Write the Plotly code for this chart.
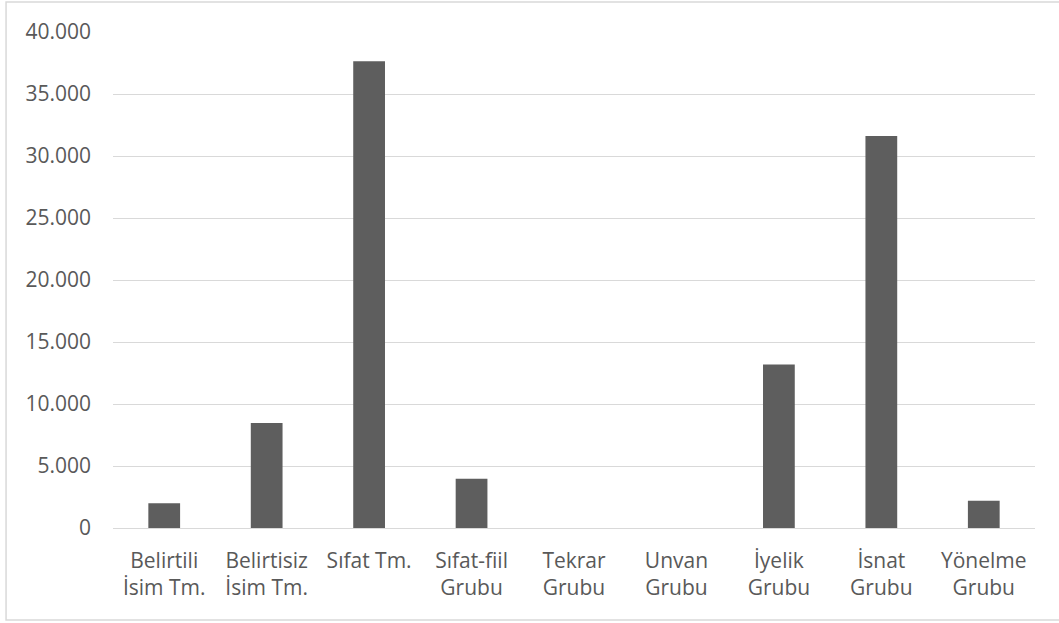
import plotly.graph_objects as go

categories = ["Belirtili<br>İsim Tm.", "Belirtisiz<br>İsim Tm.", "Sıfat Tm.", "Sıfat-fiil<br>Grubu",
              "Tekrar<br>Grubu", "Unvan<br>Grubu", "İyelik<br>Grubu", "İsnat<br>Grubu", "Yönelme<br>Grubu"]
values = [2000, 8470, 37650, 3980, 0, 0, 13190, 31610, 2200]
y_ticks = [0, 5000, 10000, 15000, 20000, 25000, 30000, 35000, 40000]

text_color = "#595959"
grid_color = "#d9d9d9"
bar_color = "#5e5e5e"

fig = go.Figure(go.Bar(x=categories, y=values, marker=dict(color=bar_color, line=dict(width=0)),
                       width=0.31))

fig.update_layout(
    width=1059, height=623,
    margin=dict(l=113, r=24, t=32, b=95),
    paper_bgcolor="white", plot_bgcolor="white",
    separators=",.",
    font=dict(family="Open Sans", size=21, color=text_color),
    showlegend=False,
    xaxis=dict(showgrid=False, showline=False, ticks="", tickfont=dict(size=21, color=text_color),
               ticklabelstandoff=18, tickangle=0),
    yaxis=dict(range=[0, 40000], tickvals=y_ticks, tickformat=",d", showgrid=True,
               gridcolor=grid_color, gridwidth=1.3, zeroline=True, zerolinecolor=grid_color,
               zerolinewidth=1.3, showline=False, ticks="", ticklabelstandoff=21,
               tickfont=dict(size=21, color=text_color)),
    shapes=[dict(type="rect", xref="paper", yref="paper",
                 x0=-0.116, x1=1.035, y0=-0.1855, y1=1.0605,
                 line=dict(color=grid_color, width=1.5), fillcolor="rgba(0,0,0,0)", layer="below")],
)

fig.write_html("out.html", config={"displayModeBar": False},
               post_script="document.body.style.margin='0';document.body.style.overflow='hidden';")
